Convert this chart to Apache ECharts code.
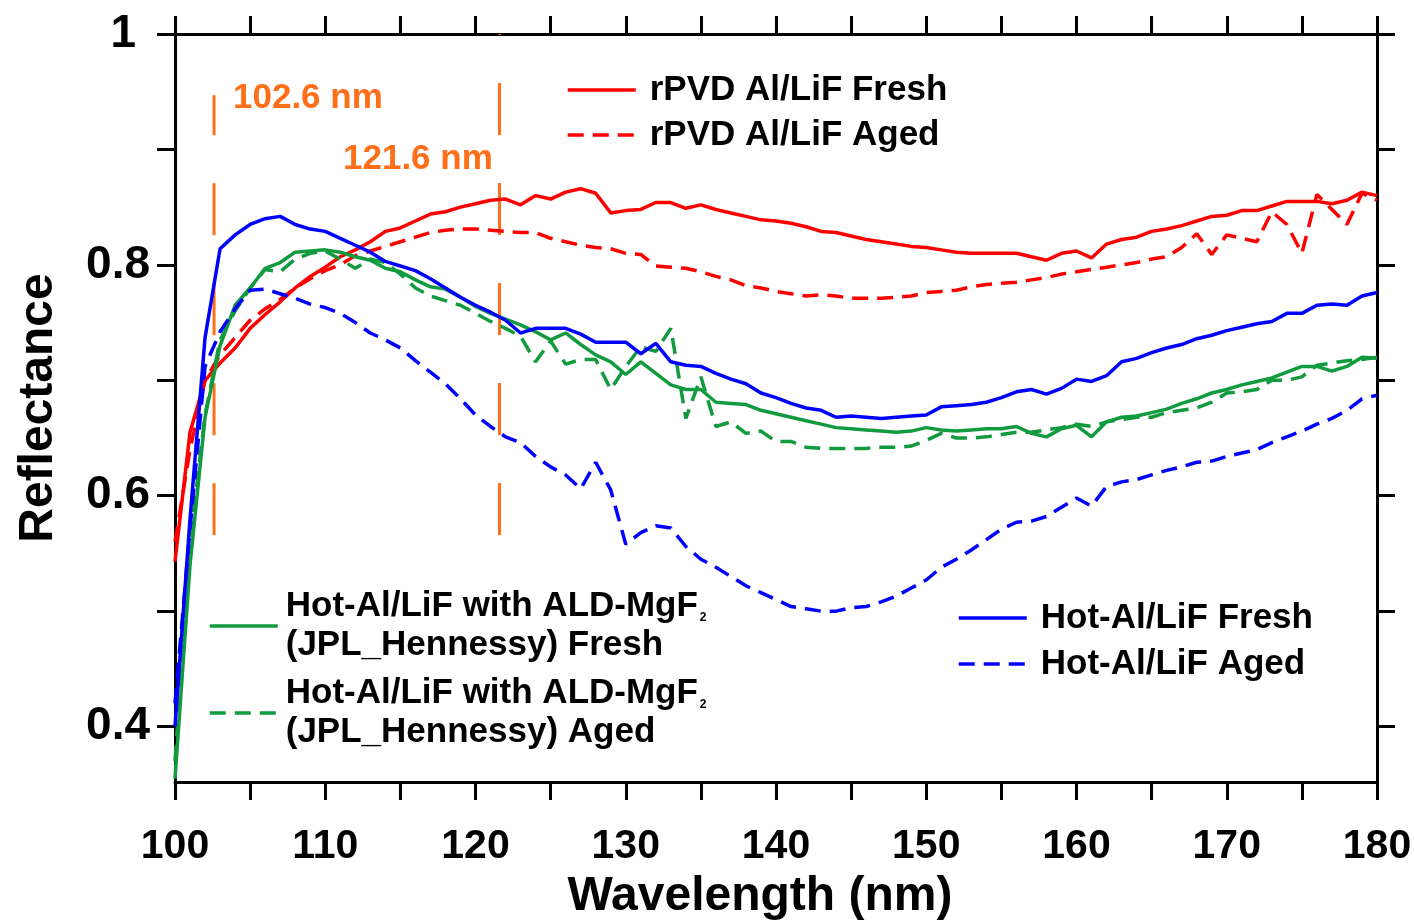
<!DOCTYPE html>
<head>
    <meta charset="UTF-8">
    <title>Reflectance</title>
    <script src="https://cdn.jsdelivr.net/npm/echarts@6/dist/echarts.min.js"></script>
    <style>
        body { margin: 0; background: #fff; }
        #main { width: 1414px; height: 922px; }
    </style>
</head>
<body>
    <div id="main"></div>
    <script type="text/javascript">
        // wavelength (nm), 1 nm steps
        var wavelength = [100,101,102,103,104,105,106,107,108,109,
            110,111,112,113,114,115,116,117,118,119,
            120,121,122,123,124,125,126,127,128,129,
            130,131,132,133,134,135,136,137,138,139,
            140,141,142,143,144,145,146,147,148,149,
            150,151,152,153,154,155,156,157,158,159,
            160,161,162,163,164,165,166,167,168,169,
            170,171,172,173,174,175,176,177,178,179,
            180];

        var rpvdFresh = [0.543,0.655,0.700,0.715,0.728,0.745,0.757,0.768,0.780,0.790,
            0.798,0.807,0.813,0.820,0.829,0.832,0.838,0.844,0.846,0.850,
            0.853,0.856,0.857,0.852,0.860,0.857,0.863,0.866,0.862,0.845,
            0.847,0.848,0.854,0.854,0.849,0.852,0.848,0.845,0.842,0.839,
            0.838,0.836,0.833,0.829,0.828,0.825,0.822,0.820,0.818,0.816,
            0.815,0.813,0.811,0.810,0.810,0.810,0.810,0.807,0.804,0.810,
            0.812,0.806,0.818,0.822,0.824,0.829,0.831,0.834,0.838,0.842,
            0.843,0.847,0.847,0.851,0.855,0.855,0.855,0.853,0.856,0.863,
            0.860];

        var rpvdAged = [0.560,0.640,0.700,0.722,0.737,0.752,0.762,0.770,0.780,0.788,
            0.795,0.800,0.808,0.812,0.816,0.820,0.824,0.828,0.830,0.831,
            0.831,0.830,0.829,0.828,0.828,0.823,0.820,0.817,0.815,0.814,
            0.810,0.809,0.799,0.798,0.797,0.794,0.790,0.787,0.782,0.780,
            0.777,0.775,0.773,0.774,0.773,0.771,0.771,0.771,0.772,0.773,
            0.776,0.777,0.778,0.781,0.783,0.784,0.785,0.787,0.789,0.792,
            0.794,0.796,0.798,0.800,0.802,0.805,0.807,0.815,0.827,0.809,
            0.826,0.823,0.820,0.846,0.835,0.810,0.861,0.848,0.835,0.862,
            0.856];

        var mgf2Fresh = [0.355,0.540,0.668,0.730,0.765,0.780,0.797,0.802,0.811,0.812,
            0.813,0.811,0.807,0.804,0.797,0.794,0.787,0.781,0.779,0.772,
            0.764,0.758,0.753,0.748,0.742,0.735,0.741,0.731,0.722,0.716,
            0.705,0.716,0.706,0.696,0.692,0.692,0.681,0.680,0.679,0.674,
            0.671,0.668,0.665,0.662,0.659,0.658,0.657,0.656,0.655,0.656,
            0.659,0.657,0.656,0.657,0.658,0.658,0.660,0.654,0.651,0.658,
            0.661,0.651,0.664,0.668,0.669,0.672,0.675,0.680,0.684,0.689,
            0.692,0.696,0.699,0.702,0.707,0.712,0.712,0.708,0.712,0.720,
            0.719];

        var mgf2Aged = [0.370,0.560,0.670,0.735,0.760,0.780,0.796,0.794,0.805,0.810,
            0.812,0.805,0.797,0.805,0.802,0.792,0.780,0.773,0.769,0.765,
            0.758,0.751,0.745,0.738,0.716,0.734,0.714,0.718,0.718,0.692,
            0.712,0.729,0.725,0.745,0.667,0.703,0.660,0.664,0.654,0.656,
            0.647,0.647,0.642,0.641,0.641,0.641,0.641,0.642,0.642,0.643,
            0.648,0.654,0.650,0.650,0.651,0.653,0.655,0.655,0.657,0.659,
            0.662,0.660,0.664,0.666,0.668,0.668,0.672,0.674,0.676,0.681,
            0.689,0.690,0.692,0.700,0.700,0.703,0.713,0.715,0.717,0.718,
            0.720];

        var hotFresh = [0.400,0.580,0.737,0.814,0.826,0.835,0.840,0.842,0.835,0.831,
            0.829,0.823,0.817,0.811,0.803,0.799,0.795,0.788,0.780,0.772,
            0.765,0.759,0.752,0.741,0.745,0.745,0.745,0.740,0.733,0.733,
            0.733,0.723,0.732,0.716,0.713,0.712,0.706,0.701,0.697,0.689,
            0.685,0.680,0.676,0.674,0.668,0.669,0.668,0.667,0.668,0.669,
            0.670,0.677,0.678,0.679,0.681,0.685,0.690,0.692,0.688,0.693,
            0.701,0.699,0.704,0.716,0.719,0.724,0.728,0.731,0.736,0.739,
            0.743,0.746,0.749,0.751,0.758,0.758,0.765,0.766,0.765,0.773,
            0.776];

        var hotAged = [0.420,0.571,0.712,0.742,0.762,0.778,0.779,0.775,0.771,0.766,
            0.763,0.758,0.750,0.741,0.735,0.728,0.717,0.707,0.697,0.684,
            0.670,0.660,0.651,0.646,0.634,0.625,0.618,0.606,0.629,0.605,
            0.558,0.568,0.574,0.572,0.556,0.545,0.538,0.530,0.522,0.516,
            0.510,0.504,0.502,0.500,0.500,0.503,0.504,0.508,0.513,0.520,
            0.527,0.538,0.545,0.553,0.562,0.571,0.577,0.578,0.582,0.590,
            0.598,0.591,0.608,0.612,0.614,0.618,0.622,0.625,0.629,0.630,
            0.634,0.637,0.640,0.646,0.651,0.656,0.662,0.667,0.674,0.684,
            0.687];

        // marker lines (nm)
        var markerNm = [102.6, 121.6];
        var markerText = ['102.6 nm', '121.6 nm'];

        var xTicks = [100,105,110,115,120,125,130,135,140,145,150,155,160,165,170,175,180];
        var xLabels = [100,110,120,130,140,150,160,170,180];
        var yTicks = [0.4,0.5,0.6,0.7,0.8,0.9,1.0];
        var yLabels = [0.4,0.6,0.8,1.0];

        var FONT = '"Liberation Sans", Arial, sans-serif';
        var RED = '#ff0000', BLUE = '#0000ff', GREEN = '#129a3f', ORANGE = '#ff6f1a';
        var DASH = [16, 9];
        var LW = 3.5;

        function pairs(ys) {
            return wavelength.map(function (w, i) { return [w, ys[i]]; });
        }

        function curve(name, ys, color, dashed) {
            return {
                name: name,
                type: 'line',
                data: pairs(ys),
                symbol: 'none',
                showSymbol: false,
                silent: true,
                lineStyle: { color: color, width: LW, type: dashed ? DASH : 'solid' },
                itemStyle: { color: color }
            };
        }

        var nameMgFresh = 'Hot-Al/LiF with ALD-MgF2 (JPL_Hennessy) Fresh';
        var nameMgAged = 'Hot-Al/LiF with ALD-MgF2 (JPL_Hennessy) Aged';

        var myChart = echarts.init(document.getElementById('main'));

        var legendText = {
            fontFamily: FONT, fontWeight: 'bold', fontSize: 35, color: '#000',
            lineHeight: 36, padding: [0, 0, 0, 9]
        };
        // hide the symbol the line legend icon draws by default
        var noSymbol = { color: 'transparent', borderWidth: 0, opacity: 0 };
        var legendLine = { width: LW };

        var axisCommon = {
            type: 'value',
            axisLine: { show: true, onZero: false, lineStyle: { color: '#000', width: 3 } },
            splitLine: { show: false }
        };

        myChart.setOption({
            animation: false,
            backgroundColor: '#fff',
            grid: { left: 175, right: 37, top: 34, bottom: 140, containLabel: false, outerBoundsMode: 'none' },
            legend: [
                {
                    data: ['rPVD Al/LiF Fresh', 'rPVD Al/LiF Aged'],
                    orient: 'vertical', left: 566, top: 72, padding: 0,
                    itemWidth: 68, itemHeight: 14, itemGap: 9,
                    itemStyle: noSymbol, lineStyle: legendLine,
                    selectedMode: false, textStyle: legendText
                },
                {
                    data: [nameMgFresh, nameMgAged],
                    orient: 'vertical', left: 208, top: 587, padding: 0,
                    itemWidth: 68, itemHeight: 14, itemGap: 9,
                    itemStyle: noSymbol, lineStyle: legendLine,
                    selectedMode: false,
                    formatter: function (n) {
                        return n === nameMgFresh
                            ? 'Hot-Al/LiF with ALD-MgF{sub|2}\n(JPL_Hennessy) Fresh'
                            : 'Hot-Al/LiF with ALD-MgF{sub|2}\n(JPL_Hennessy) Aged';
                    },
                    textStyle: {
                        fontFamily: FONT, fontWeight: 'bold', fontSize: 35, color: '#000',
                        lineHeight: 39, padding: [0, 0, 0, 3],
                        rich: {
                            sub: { fontFamily: FONT, fontWeight: 'bold', fontSize: 12, color: '#000',
                                lineHeight: 39, verticalAlign: 'bottom', padding: [0, 0, 2, 2] }
                        }
                    }
                },
                {
                    data: ['Hot-Al/LiF Fresh', 'Hot-Al/LiF Aged'],
                    orient: 'vertical', left: 957, top: 600, padding: 0,
                    itemWidth: 68, itemHeight: 14, itemGap: 10,
                    itemStyle: noSymbol, lineStyle: legendLine,
                    selectedMode: false, textStyle: legendText
                }
            ],
            xAxis: [
                Object.assign({}, axisCommon, {
                    position: 'bottom', min: 100, max: 180, interval: 10,
                    name: 'Wavelength (nm)', nameLocation: 'middle', nameGap: 91,
                    nameTextStyle: { fontFamily: FONT, fontWeight: 'bold', fontSize: 48, color: '#000',
                        padding: [0, 32, 0, 0] },
                    axisTick: { show: true, inside: false, length: 18, customValues: xTicks,
                        lineStyle: { color: '#000', width: 3 } },
                    axisLabel: { show: true, margin: 44, customValues: xLabels,
                        fontFamily: FONT, fontWeight: 'bold', fontSize: 41, color: '#000' }
                }),
                Object.assign({}, axisCommon, {
                    position: 'top', min: 100, max: 180, interval: 10,
                    axisTick: { show: true, inside: false, length: 18, customValues: xTicks,
                        lineStyle: { color: '#000', width: 3 } },
                    axisLabel: { show: false }
                })
            ],
            yAxis: [
                Object.assign({}, axisCommon, {
                    position: 'left', min: 0.352, max: 1,
                    name: 'Reflectance', nameLocation: 'middle', nameGap: 112,
                    nameTextStyle: { fontFamily: FONT, fontWeight: 'bold', fontSize: 48, color: '#000' },
                    axisTick: { show: true, inside: false, length: 18, customValues: yTicks,
                        lineStyle: { color: '#000', width: 3 } },
                    axisLabel: { show: true, margin: 25, customValues: yLabels,
                        fontFamily: FONT, fontWeight: 'bold', fontSize: 46, color: '#000',
                        formatter: function (v) { return v >= 0.999 ? '{one|1}' : v.toFixed(1); },
                        rich: { one: { fontFamily: FONT, fontWeight: 'bold', fontSize: 46, color: '#000',
                            padding: [0, 14, 0, 0] } } }
                }),
                Object.assign({}, axisCommon, {
                    position: 'right', min: 0.352, max: 1,
                    axisTick: { show: true, inside: false, length: 18, customValues: yTicks,
                        lineStyle: { color: '#000', width: 3 } },
                    axisLabel: { show: false }
                })
            ],
            series: [
                {
                    name: 'm1', type: 'line', silent: true, symbol: 'none',
                    data: [[markerNm[0], 0.947], [markerNm[0], 0.566]],
                    lineStyle: { color: ORANGE, width: 3, type: [52, 48], dashOffset: 12 }
                },
                {
                    name: 'm2', type: 'line', silent: true, symbol: 'none',
                    data: [[markerNm[1], 1.0], [markerNm[1], 0.566]],
                    lineStyle: { color: ORANGE, width: 3, type: [52, 48], dashOffset: 51 }
                },
                curve('rPVD Al/LiF Fresh', rpvdFresh, RED, false),
                curve('rPVD Al/LiF Aged', rpvdAged, RED, true),
                curve(nameMgFresh, mgf2Fresh, GREEN, false),
                curve(nameMgAged, mgf2Aged, GREEN, true),
                curve('Hot-Al/LiF Fresh', hotFresh, BLUE, false),
                curve('Hot-Al/LiF Aged', hotAged, BLUE, true)
            ],
            graphic: [
                { type: 'text', x: 233, y: 98, silent: true,
                  style: { text: markerText[0], fill: ORANGE, font: 'bold 35px ' + FONT, verticalAlign: 'middle' } },
                { type: 'text', x: 343, y: 159, silent: true,
                  style: { text: markerText[1], fill: ORANGE, font: 'bold 35px ' + FONT, verticalAlign: 'middle' } }
            ]
        });
    </script>
</body>
